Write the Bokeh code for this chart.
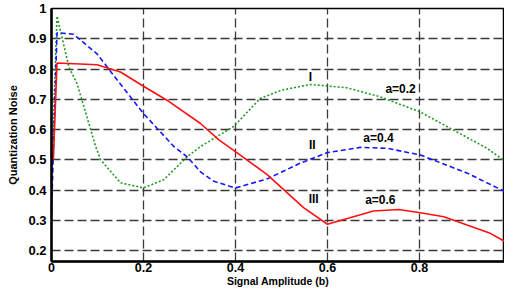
from bokeh.plotting import figure
from bokeh.embed import file_html
from bokeh.resources import INLINE
from bokeh.models import FixedTicker, Range1d
from bokeh.core.properties import value

# a = 0.2 (curve I, green dotted)
x_a02 = [0.0, 0.012, 0.038, 0.056, 0.096, 0.107, 0.15, 0.2, 0.244, 0.295, 0.324, 0.396, 0.454, 0.5, 0.563, 0.643, 0.715, 0.802, 0.947, 1.0]
y_a02 = [0.45, 0.975, 0.806, 0.75, 0.544, 0.5, 0.424, 0.407, 0.434, 0.51, 0.544, 0.61, 0.703, 0.73, 0.749, 0.738, 0.708, 0.658, 0.538, 0.48]

# a = 0.4 (curve II, blue dashed)
x_a04 = [0.0, 0.012, 0.048, 0.099, 0.15, 0.2, 0.266, 0.295, 0.324, 0.353, 0.4, 0.469, 0.541, 0.6, 0.672, 0.73, 0.802, 0.904, 1.0]
y_a04 = [0.325, 0.92, 0.915, 0.85, 0.75, 0.653, 0.544, 0.51, 0.46, 0.429, 0.407, 0.437, 0.489, 0.524, 0.541, 0.538, 0.516, 0.456, 0.385]

# a = 0.6 (curve III, red solid)
x_a06 = [0.004, 0.012, 0.099, 0.15, 0.2, 0.251, 0.324, 0.364, 0.4, 0.469, 0.548, 0.6, 0.7, 0.755, 0.802, 0.853, 0.954, 1.0]
y_a06 = [0.5, 0.82, 0.814, 0.79, 0.743, 0.697, 0.62, 0.566, 0.527, 0.451, 0.342, 0.287, 0.331, 0.336, 0.325, 0.312, 0.257, 0.218]

x_ticks = [0, 0.2, 0.4, 0.6, 0.8, 1.0]
x_tick_labels = ["0", "0.2", "0.4", "0.6", "0.8", "1"]
y_ticks = [0.2, 0.3, 0.4, 0.5, 0.6, 0.7, 0.8, 0.9, 1.0]
y_tick_labels = ["0.2", "0.3", "0.4", "0.5", "0.6", "0.7", "0.8", "0.9", "1"]

label_texts = ["I", "a=0.2", "II", "a=0.4", "III", "a=0.6"]
label_x = [0.563, 0.759, 0.567, 0.711, 0.57, 0.715]
label_y = [0.773, 0.733, 0.549, 0.573, 0.372, 0.366]

FONT = "Liberation Sans"

p = figure(width=504, height=289, output_backend="svg", toolbar_location=None,
           x_range=Range1d(0, 0.985), y_range=Range1d(0.164, 1.0),
           min_border_left=51, min_border_right=0, min_border_top=8, min_border_bottom=22)
p.background_fill_color = "white"
p.border_fill_color = "white"
p.outline_line_color = "black"
p.outline_line_width = 1.5

for ax in (p.xaxis, p.yaxis):
    ax.axis_line_width = 2.5
    ax.axis_line_color = "black"
    ax.major_tick_line_color = None
    ax.minor_tick_line_color = None
    ax.major_tick_out = 0
    ax.major_tick_in = 0
    ax.minor_tick_out = 0
    ax.minor_tick_in = 0
    ax.major_label_text_font = FONT
    ax.major_label_text_font_style = "bold"
    ax.major_label_text_font_size = "13px"
    ax.major_label_text_color = "black"
    ax.major_label_text_line_height = 0.9
    ax.axis_label_text_font = FONT
    ax.axis_label_text_font_style = "bold"
    ax.axis_label_text_color = "black"
    ax.axis_label_text_line_height = 0.9

p.xaxis.ticker = FixedTicker(ticks=x_ticks)
p.xaxis.major_label_overrides = {t: l for t, l in zip(x_ticks, x_tick_labels)}
p.yaxis.ticker = FixedTicker(ticks=y_ticks)
p.yaxis.major_label_overrides = {t: l for t, l in zip(y_ticks, y_tick_labels)}
p.xaxis.major_label_standoff = 1
p.yaxis.major_label_standoff = 5
p.xaxis.major_label_text_font_size = "12.5px"
p.xaxis.axis_label = "Signal Amplitude (b)"
p.xaxis.axis_label_text_font_size = "10.5px"
p.xaxis.axis_label_standoff = 0
p.yaxis.axis_label = "Quantization Noise"
p.yaxis.axis_label_text_font_size = "11px"
p.yaxis.axis_label_standoff = 6

p.xgrid.ticker = FixedTicker(ticks=[0.2, 0.4, 0.6, 0.8])
p.ygrid.ticker = FixedTicker(ticks=[0.2, 0.3, 0.4, 0.5, 0.6, 0.7, 0.8, 0.9])
for g in (p.xgrid, p.ygrid):
    g.grid_line_color = "#3a3a3a"
    g.grid_line_width = 1.3
    g.grid_line_dash = "9 4"

p.line(x_a02, y_a02, line_color="#229922", line_width=1.6, line_dash="2 2")
p.line(x_a04, y_a04, line_color="#1515ff", line_width=1.6, line_dash="5 3")
p.line(x_a06, y_a06, line_color="#ff1010", line_width=1.6)

p.text(x=label_x, y=label_y, text=label_texts, text_align="center", text_baseline="middle",
       text_font=value(FONT), text_font_style="bold", text_font_size="12px", text_color="black")

open("out.html", "w").write(file_html(p, INLINE))
